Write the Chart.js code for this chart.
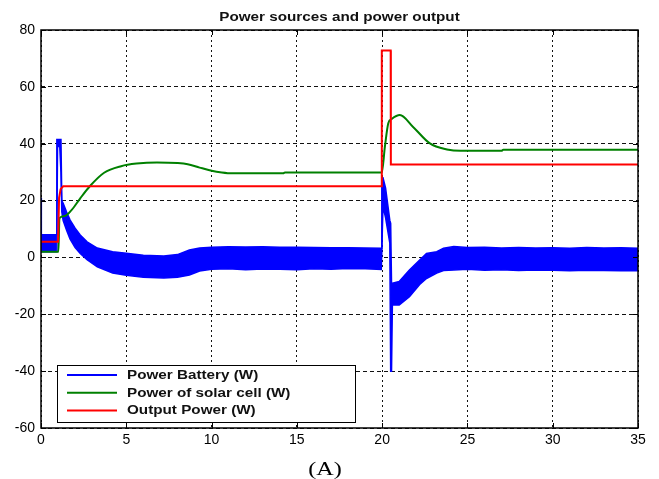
<!DOCTYPE html>
<html>
<head>
<meta charset="utf-8">
<script src="https://cdn.jsdelivr.net/npm/chart.js@4.4.1/dist/chart.umd.min.js"></script>
<style>
  html, body { margin: 0; padding: 0; background: #fff; }
  #wrap { width: 659px; height: 479px; position: relative; }
</style>
</head>
<body>
<div id="wrap"><canvas id="c" width="659" height="479"></canvas></div>
<script>
// ---- Data ----
const titleText = "Power sources and power output";
const captionText = "(A)";
const seriesLabels = ["Power Battery (W)", "Power of solar cell (W)", "Output Power (W)"];
const xTicks = [0, 5, 10, 15, 20, 25, 30, 35];
const yTicks = [-60, -40, -20, 0, 20, 40, 60, 80];

// Battery power: oscillating band, given as upper and lower envelopes
const batteryT = [0, 0.02, 0.5, 0.9, 0.93, 0.97, 1.1, 1.17, 1.22, 1.3, 1.5, 1.7, 2.0, 2.3, 2.7, 3.3, 4.2, 5.0, 6.0, 7.2, 8.0, 8.7, 9.3, 10, 11, 12, 13, 14, 15, 16, 17, 18, 19, 19.95, 19.98, 20.05, 20.2, 20.45, 20.5, 20.55, 20.6, 21.0, 21.6, 22.2, 22.6, 23.2, 23.6, 24.2, 25, 26, 27, 28, 29, 30, 31, 32, 33, 34, 35];
const batteryUpper = [21, 8, 8, 8, 41.5, 41.5, 41.5, 41.5, 20, 19, 16, 13.2, 10.3, 7.9, 5.5, 3.3, 2.0, 1.5, 0.8, 0.5, 1.0, 2.6, 3.3, 3.6, 3.8, 3.7, 3.8, 3.6, 3.6, 3.5, 3.4, 3.4, 3.3, 3.2, 28, 28, 24.5, 13, 12, -9, -9.1, -8.5, -4.4, -0.9, 1.4, 2.0, 3.2, 3.8, 3.5, 3.6, 3.3, 3.5, 3.3, 3.4, 3.2, 3.5, 3.3, 3.4, 3.2];
const batteryLower = [2, 2, 2, 2, 10, 39, 39, 30, 16, 13, 9.6, 6.5, 3.5, 1.4, -0.8, -3.3, -5.5, -6.3, -7.0, -7.2, -7.0, -6.2, -4.8, -4.2, -4.0, -4.3, -4.1, -4.2, -4.3, -4.0, -4.2, -3.9, -4.0, -4.2, -4.2, 18, 14, 5, -40, -40, -16.7, -16.7, -13.8, -9.5, -7.4, -5.5, -4.6, -4.4, -4.2, -4.5, -4.3, -4.6, -4.4, -4.5, -4.7, -4.5, -4.6, -4.7, -4.7];

// Solar cell power
const solarT = [0, 1.02, 1.08, 1.4, 1.8, 2.3, 2.9, 3.7, 4.7, 5.6, 6.8, 8.0, 8.6, 9.3, 10.0, 10.6, 11.2, 14.2, 14.3, 19.98, 20.16, 20.36, 20.56, 21.04, 21.8, 22.8, 23.8, 24.6, 27.0, 27.1, 35];
const solarP = [2.0, 2.0, 13.8, 14.6, 16.7, 20.8, 25.3, 29.8, 32.1, 33.0, 33.4, 33.2, 32.8, 31.6, 30.5, 29.9, 29.6, 29.6, 29.9, 29.9, 38.9, 47.2, 48.7, 50.1, 46, 40.1, 38, 37.5, 37.5, 37.9, 37.9];

// Output power
const outputT = [0, 1.0, 1.06, 1.15, 1.3, 19.97, 19.98, 20.5, 20.51, 35];
const outputP = [5.5, 5.5, 21, 24, 25, 25, 72.8, 72.8, 32.7, 32.7];

// ---- Build datasets ----
const pts = (t, v) => t.map((x, i) => ({ x: x, y: v[i] }));
const BLUE = '#0000ff', GREEN = '#008000', RED = '#ff0000';

const datasets = [
  { label: seriesLabels[0], data: pts(batteryT, batteryUpper), borderColor: BLUE, backgroundColor: BLUE,
    borderWidth: 1.5, fill: '+1', order: 2, tension: 0 },
  { label: '_battery_lower', data: pts(batteryT, batteryLower), borderColor: BLUE, backgroundColor: BLUE,
    borderWidth: 1.5, fill: false, order: 2, tension: 0 },
  { label: seriesLabels[1], data: pts(solarT, solarP), borderColor: GREEN, backgroundColor: GREEN,
    borderWidth: 2, fill: false, order: 1, cubicInterpolationMode: 'monotone' },
  { label: seriesLabels[2], data: pts(outputT, outputP), borderColor: RED, backgroundColor: RED,
    borderWidth: 2, fill: false, order: 0, tension: 0 }
];

const FONT = '"Liberation Sans", Arial, sans-serif';
const STRETCH = 1.27; // the reference text is horizontally stretched

function stretchedText(ctx, text, x, y, sx) {
  ctx.save();
  ctx.translate(x, y);
  ctx.scale(sx, 1);
  ctx.fillText(text, 0, 0);
  ctx.restore();
}

const decorPlugin = {
  id: 'decor',
  afterDraw(chart) {
    const { ctx, chartArea: a, scales } = chart;
    ctx.save();
    // inner tick marks (MATLAB style)
    ctx.strokeStyle = '#000';
    ctx.lineWidth = 1;
    ctx.beginPath();
    xTicks.forEach(v => {
      const px = Math.round(scales.x.getPixelForValue(v)) + 0.5;
      ctx.moveTo(px, a.bottom); ctx.lineTo(px, a.bottom - 5);
      ctx.moveTo(px, a.top); ctx.lineTo(px, a.top + 5);
    });
    yTicks.forEach(v => {
      const py = Math.round(scales.y.getPixelForValue(v)) + 0.5;
      ctx.moveTo(a.left, py); ctx.lineTo(a.left + 5, py);
      ctx.moveTo(a.right, py); ctx.lineTo(a.right - 5, py);
    });
    ctx.stroke();
    // frame
    ctx.strokeStyle = '#000';
    ctx.lineWidth = 1.5;
    ctx.strokeRect(a.left, a.top, a.right - a.left, a.bottom - a.top);

    // legend box
    const lx = 57, ly = 365, lw = 298, lh = 57;
    ctx.fillStyle = '#fff';
    ctx.fillRect(lx, ly, lw, lh);
    ctx.lineWidth = 1;
    ctx.strokeStyle = '#000';
    ctx.strokeRect(lx + 0.5, ly + 0.5, lw, lh);
    const entries = chart.data.datasets.filter(d => !d.label.startsWith('_'));
    ctx.font = 'bold 12px ' + FONT;
    ctx.textBaseline = 'middle';
    ctx.textAlign = 'left';
    entries.forEach((d, i) => {
      const y = ly + 10 + i * 17.8;
      ctx.strokeStyle = d.borderColor;
      ctx.lineWidth = 2;
      ctx.beginPath();
      ctx.moveTo(67, y); ctx.lineTo(117, y);
      ctx.stroke();
      ctx.fillStyle = '#111';
      stretchedText(ctx, d.label, 127, y + 0.5, STRETCH);
    });

    // title
    ctx.font = 'bold 12px ' + FONT;
    ctx.textAlign = 'center';
    ctx.textBaseline = 'middle';
    ctx.fillStyle = '#111';
    stretchedText(ctx, titleText, (a.left + a.right) / 2, 17.5, STRETCH);

    // caption
    ctx.font = '19px "Liberation Serif", "Times New Roman", serif';
    ctx.textBaseline = 'alphabetic';
    ctx.fillStyle = '#000';
    stretchedText(ctx, captionText, 325, 475, STRETCH);
    ctx.restore();
  }
};

new Chart(document.getElementById('c'), {
  type: 'line',
  data: { datasets },
  plugins: [decorPlugin],
  options: {
    responsive: false,
    animation: false,
    parsing: true,
    elements: { point: { radius: 0, hoverRadius: 0 } },
    layout: { padding: { top: 30, right: 21, bottom: 0, left: 0 } },
    plugins: { legend: { display: false }, title: { display: false }, tooltip: { enabled: false } },
    events: [],
    scales: {
      x: {
        type: 'linear', min: 0, max: 35,
        afterBuildTicks(scale) { scale.ticks = xTicks.map(v => ({ value: v })); },
        afterFit(scale) { scale.height = 51; },
        ticks: { color: '#000', font: { family: FONT, size: 14 }, padding: 4, maxRotation: 0, autoSkip: false },
        grid: { color: '#111', lineWidth: 1, drawTicks: false },
        border: { display: false, dash: [2, 3] }
      },
      y: {
        type: 'linear', min: -60, max: 80,
        afterBuildTicks(scale) { scale.ticks = yTicks.map(v => ({ value: v })); },
        afterFit(scale) { scale.width = 41; },
        ticks: { color: '#000', font: { family: FONT, size: 14 }, padding: 6, autoSkip: false },
        grid: { color: '#111', lineWidth: 1, drawTicks: false },
        border: { display: false, dash: [4, 3] }
      }
    }
  }
});
</script>
</body>
</html>
